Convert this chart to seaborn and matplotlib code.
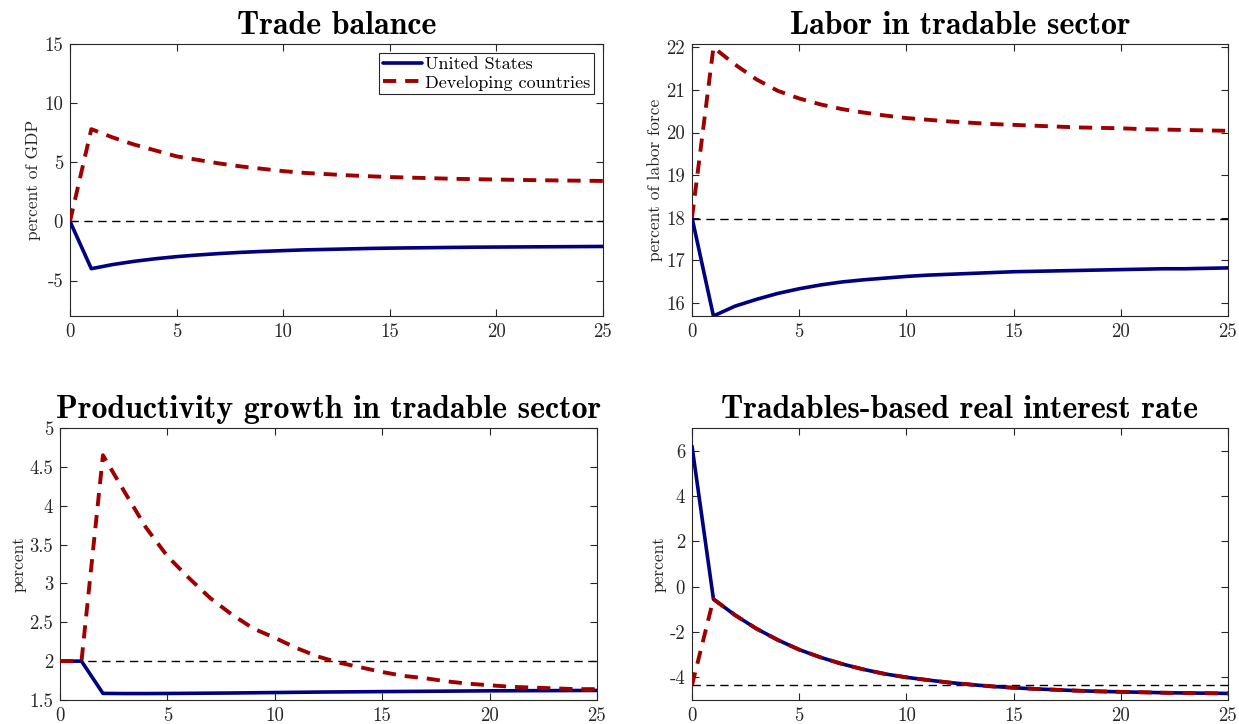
import numpy as np
import pandas as pd
import matplotlib
matplotlib.use("Agg")
import matplotlib.pyplot as plt
import seaborn as sns

# periods after the shock
t = list(range(26))

# trade balance, percent of GDP
tb_us = [0, -4.0, -3.65, -3.38, -3.16, -2.98, -2.84, -2.72, -2.62, -2.54, -2.47, -2.41, -2.37,
         -2.33, -2.29, -2.26, -2.24, -2.22, -2.20, -2.18, -2.17, -2.16, -2.15, -2.14, -2.13, -2.12]
tb_dev = [0, 7.8, 7.1, 6.5, 6.0, 5.5, 5.2, 4.9, 4.65, 4.45, 4.25, 4.1, 4.0,
          3.9, 3.82, 3.75, 3.7, 3.65, 3.6, 3.57, 3.54, 3.51, 3.48, 3.46, 3.44, 3.42]
tb_ss = 0

# labor in tradable sector, percent of labor force
lab_us = [18, 15.69, 15.92, 16.08, 16.22, 16.33, 16.42, 16.49, 16.54, 16.58, 16.62, 16.65, 16.67,
          16.69, 16.71, 16.73, 16.74, 16.75, 16.76, 16.77, 16.78, 16.79, 16.80, 16.80, 16.81, 16.82]
lab_dev = [18, 22.0, 21.6, 21.25, 20.98, 20.8, 20.66, 20.55, 20.47, 20.4, 20.34, 20.3, 20.26,
           20.23, 20.2, 20.18, 20.16, 20.14, 20.12, 20.11, 20.1, 20.08, 20.07, 20.06, 20.05, 20.04]
lab_ss = 17.97

# productivity growth in tradable sector, percent
prod_us = [2.0, 2.0, 1.585, 1.583, 1.583, 1.584, 1.586, 1.588, 1.59, 1.593, 1.596, 1.599, 1.602,
           1.604, 1.606, 1.608, 1.61, 1.612, 1.614, 1.616, 1.618, 1.619, 1.62, 1.621, 1.622, 1.623]
prod_dev = [2.0, 2.0, 4.65, 4.18, 3.72, 3.35, 3.07, 2.81, 2.6, 2.42, 2.3, 2.17, 2.06,
            1.98, 1.92, 1.86, 1.81, 1.78, 1.74, 1.71, 1.69, 1.67, 1.66, 1.65, 1.64, 1.64]
prod_ss = 2.0

# tradables-based real interest rate, percent
r_us = [6.2, -0.55, -1.25, -1.85, -2.35, -2.78, -3.12, -3.41, -3.65, -3.85, -4.0, -4.12, -4.23,
        -4.32, -4.4, -4.46, -4.51, -4.55, -4.59, -4.62, -4.64, -4.66, -4.68, -4.69, -4.7, -4.71]
r_dev = [-4.35] + r_us[1:]
r_ss = -4.35

sns.set_theme(style="ticks")
plt.rcParams['font.family'] = ['cmr10', 'DejaVu Serif']
plt.rcParams['axes.unicode_minus'] = False
plt.rcParams['mathtext.fontset'] = 'cm'

US_COL = '#000080'
DEV_COL = '#9e0000'

fig = plt.figure(figsize=(12.39, 7.24), dpi=100)
W, H = 1239, 724

def px_axes(l, r, top, bot):
    return fig.add_axes([l / W, 1 - bot / H, (r - l) / W, (bot - top) / H])

panels = [
    (px_axes(70, 603, 44, 316), "Trade balance", "percent of GDP", tb_us, tb_dev, tb_ss, (-8, 15), [-5, 0, 5, 10, 15]),
    (px_axes(692, 1228, 44, 316), "Labor in tradable sector", "percent of labor force", lab_us, lab_dev, lab_ss, (15.69, 22.08), [16, 17, 18, 19, 20, 21, 22]),
    (px_axes(60, 597, 428, 700), "Productivity growth in tradable sector", "percent", prod_us, prod_dev, prod_ss, (1.5, 5), [1.5, 2, 2.5, 3, 3.5, 4, 4.5, 5]),
    (px_axes(692, 1228, 428, 700), "Tradables-based real interest rate", "percent", r_us, r_dev, r_ss, (-5, 7), [-4, -2, 0, 2, 4, 6]),
]

for i, (ax, title, ylab, us, dev, ss, ylim, yt) in enumerate(panels):
    df = pd.DataFrame({"t": t, "us": us, "dev": dev})
    ax.axhline(ss, color='black', lw=1.0, ls=(0, (6, 4)), zorder=1)
    sns.lineplot(data=df, x="t", y="us", ax=ax, color=US_COL, lw=2.6, label="United States", zorder=3)
    sns.lineplot(data=df, x="t", y="dev", ax=ax, color=DEV_COL, lw=2.8, ls=(0, (3.4, 2.3)),
                 label="Developing countries", zorder=4)
    ax.set_xlim(0, 25)
    ax.set_ylim(*ylim)
    ax.set_xticks([0, 5, 10, 15, 20, 25])
    ax.set_yticks(yt)
    ax.set_yticklabels([f"{v:g}" for v in yt])
    ax.set_title(title, fontsize=23, family=['cmb10', 'DejaVu Serif'], color='black', pad=7)
    ax.set_xlabel("")
    ax.set_ylabel(ylab, fontsize=12.5, labelpad=2, color='#262626')
    ax.tick_params(direction='in', top=True, right=True, length=5, width=0.8,
                   labelsize=13.5, colors='#262626', pad=5)
    for s in ax.spines.values():
        s.set_color('#262626')
        s.set_linewidth(0.8)
        s.set_visible(True)
    if i == 0:
        leg = ax.legend(loc='upper right', fontsize=13, handlelength=2.2, handletextpad=0.15,
                        borderpad=0.2, labelspacing=0.15, borderaxespad=0.5, fancybox=False,
                        framealpha=1, edgecolor='#262626')
        leg.get_frame().set_linewidth(0.8)
        for txt in leg.get_texts():
            txt.set_color('black')
    else:
        ax.get_legend().remove()

fig.savefig("out.png", dpi=100)
